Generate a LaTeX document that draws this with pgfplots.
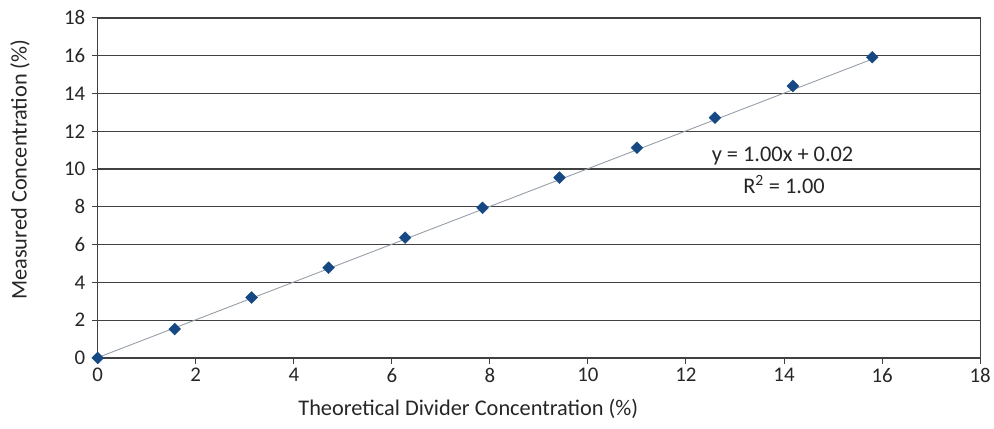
\documentclass[border=0pt]{standalone}
\usepackage{pgfplots}
\pgfplotsset{compat=1.18}
\usepackage{fontspec}
\setmainfont{Carlito}
\definecolor{mk}{RGB}{22,72,132}
\definecolor{gridc}{RGB}{65,65,65}
\definecolor{trend}{RGB}{150,158,168}
\begin{document}
\begin{tikzpicture}[x=1bp,y=1bp]
\begin{axis}[
  at={(0,0)}, anchor=south west,
  scale only axis,
  width=885bp, height=341bp,
  xmin=0, xmax=18, ymin=0, ymax=18,
  xtick={0,2,...,18}, ytick={0,2,...,18},
  ymajorgrids, xmajorgrids=false,
  grid style={gridc, line width=1.2pt},
  axis line style={gridc, line width=1.2pt},
  tick style={gridc, line width=1pt},
  tick align=outside,
  major tick length=6bp,
  xtick pos=bottom, ytick pos=left,
  /pgf/number format/assume math mode=true,
  ticklabel style={font=\fontsize{21}{24}\selectfont, color=black!85},
  xticklabel style={yshift=-1bp},
  yticklabel style={xshift=-3bp},
  xlabel={Theoretical Divider Concentration (\%)},
  ylabel={Measured Concentration (\%)},
  every axis x label/.style={at={(axis description cs:0.42,0)}, yshift=-51bp, anchor=center, font=\fontsize{22.5}{26}\selectfont, color=black!85},
  every axis y label/.style={at={(axis description cs:0,0.554)}, xshift=-78bp, rotate=90, anchor=center, font=\fontsize{22.5}{26}\selectfont, color=black!85},
]
\addplot[trend, line width=0.9pt] coordinates {(0,0.02) (15.8,15.82)};
\addplot[only marks, mark=square*, mark size=4.2bp, color=mk, mark options={fill=mk, draw=mk, rotate=45}] coordinates {
(0,0)
(1.57,1.53)
(3.14,3.20)
(4.71,4.78)
(6.27,6.37)
(7.85,7.95)
(9.42,9.55)
(11.0,11.13)
(12.59,12.72)
(14.18,14.40)
(15.80,15.92)
};
\node[font=\fontsize{22.5}{26}\selectfont, color=black!85] at (axis cs:13.97,10.67) {y = 1.00x + 0.02};
\node[font=\fontsize{22.5}{26}\selectfont, color=black!85] at (axis cs:14.0,9.19) {R\textsuperscript{2} = 1.00};
\end{axis}
\useasboundingbox (-98bp,-71bp) rectangle (896bp,359bp);
\end{tikzpicture}
\end{document}
